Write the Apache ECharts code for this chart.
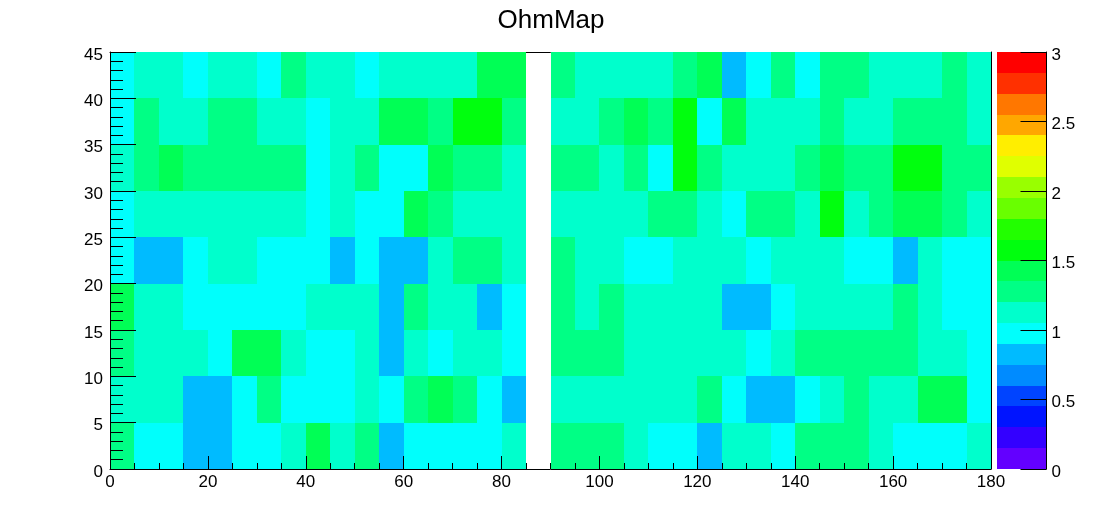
<!DOCTYPE html>
<html>
<head>
<meta charset="utf-8">
<style>html,body{margin:0;padding:0;background:#fff}#c{width:1102px;height:522px}</style>
<script src="https://cdn.jsdelivr.net/npm/echarts@6/dist/echarts.min.js"></script>
</head>
<body>
<div id="c"></div>
<script>
// Bin widths
const xBinWidth = 5;
const yBinWidth = 5;
// Values per row (x bins 0..180 in steps of 5); null = empty bin
const y0  = [1.28,1.0,1.0,0.82,0.82,1.0,1.0,1.12,1.42,1.12,1.28,0.82,1.0,1.0,1.0,1.0,1.12,null,1.28,1.28,1.28,1.12,1.0,1.0,0.82,1.12,1.12,1.0,1.28,1.28,1.28,1.12,1.0,1.0,1.0,1.12];
const y5  = [1.12,1.12,1.12,0.82,0.82,1.0,1.28,1.0,1.0,1.0,1.12,1.0,1.28,1.42,1.28,1.0,0.82,null,1.12,1.12,1.12,1.12,1.12,1.12,1.28,1.0,0.82,0.82,1.0,1.12,1.28,1.12,1.12,1.42,1.42,1.0];
const y10 = [1.28,1.12,1.12,1.12,1.0,1.42,1.42,1.12,1.0,1.0,1.12,0.82,1.12,1.0,1.12,1.12,1.0,null,1.28,1.28,1.28,1.12,1.12,1.12,1.12,1.12,1.0,1.12,1.28,1.28,1.28,1.28,1.28,1.12,1.12,1.0];
const y15 = [1.42,1.12,1.12,1.0,1.0,1.0,1.0,1.0,1.12,1.12,1.12,0.82,1.28,1.12,1.12,0.82,1.0,null,1.28,1.12,1.28,1.12,1.12,1.12,1.12,0.82,0.82,1.0,1.12,1.12,1.12,1.12,1.28,1.12,1.0,1.0];
const y20 = [1.0,0.82,0.82,1.0,1.12,1.12,1.0,1.0,1.0,0.82,1.0,0.82,0.82,1.12,1.28,1.28,1.12,null,1.28,1.12,1.12,1.0,1.0,1.12,1.12,1.12,1.0,1.12,1.12,1.12,1.0,1.0,0.82,1.12,1.0,1.0];
const y25 = [1.0,1.12,1.12,1.12,1.12,1.12,1.12,1.12,1.0,1.12,1.0,1.0,1.42,1.28,1.12,1.12,1.12,null,1.12,1.12,1.12,1.12,1.28,1.28,1.12,1.0,1.28,1.28,1.12,1.58,1.12,1.28,1.42,1.42,1.28,1.12];
const y30 = [1.12,1.28,1.42,1.28,1.28,1.28,1.28,1.28,1.0,1.12,1.28,1.0,1.0,1.42,1.28,1.28,1.12,null,1.28,1.28,1.12,1.28,1.0,1.58,1.28,1.12,1.12,1.12,1.28,1.42,1.28,1.28,1.58,1.58,1.28,1.28];
const y35 = [1.0,1.28,1.12,1.12,1.28,1.28,1.12,1.12,1.0,1.12,1.12,1.42,1.42,1.28,1.58,1.58,1.28,null,1.12,1.12,1.28,1.42,1.28,1.58,1.0,1.42,1.12,1.12,1.12,1.28,1.12,1.12,1.28,1.28,1.28,1.12];
const y40 = [1.0,1.12,1.12,1.0,1.12,1.12,1.0,1.28,1.12,1.12,1.0,1.12,1.12,1.12,1.12,1.42,1.42,null,1.28,1.12,1.12,1.12,1.12,1.28,1.42,0.82,1.0,1.28,1.0,1.28,1.28,1.12,1.12,1.12,1.28,1.12];
const rows = [y0,y5,y10,y15,y20,y25,y30,y35,y40];

// Palette bands, lowest value first (each 0.15 wide)
const paletteStep = 0.15;
const paletteColors = ['#6300ff','#3300ff','#0014ff','#0044ff','#008bff','#00bbff','#00fffc','#00ffcc','#00ff85','#00ff55','#00ff0e','#22ff00','#69ff00','#99ff00','#e0ff00','#ffee00','#ffa700','#ff7700','#ff3000','#ff0000'];
const titleText = 'OhmMap';

function colorOf(v){
  return paletteColors[Math.min(paletteColors.length-1, Math.floor(v/paletteStep))];
}
const cells = [];
rows.forEach((r,j)=>r.forEach((v,i)=>{ if(v!==null) cells.push([i*xBinWidth,j*yBinWidth,v]); }));
const bands = paletteColors.map((c,i)=>[i*paletteStep,(i+1)*paletteStep,i]);

const font = 'Liberation Sans';
const black = '#000';
const shifted = {a:{fontFamily:font,fontSize:17,color:black,padding:[6,0,0,0]}};
const chart = echarts.init(document.getElementById('c'),null,{renderer:'canvas'});
chart.setOption({
  animation:false,
  backgroundColor:'#fff',
  title:{text:titleText,left:'center',top:3,textStyle:{fontFamily:font,fontSize:26,fontWeight:'normal',color:black}},
  grid:[
    {left:110,top:52,width:881,height:417},
    {left:997,top:52,width:49.5,height:417}
  ],
  xAxis:[
    {type:'value',gridIndex:0,min:0,max:180,interval:20,position:'bottom',z:5,
     splitLine:{show:false},
     axisLine:{show:true,onZero:false,lineStyle:{color:black,width:1}},
     axisTick:{show:true,inside:true,length:13,lineStyle:{color:black}},
     minorTick:{show:true,splitNumber:4,length:6,lineStyle:{color:black}},
     axisLabel:{fontFamily:font,fontSize:17,color:black,margin:5}},
    {type:'value',gridIndex:0,min:0,max:180,position:'top',z:0,
     splitLine:{show:false},axisTick:{show:false},axisLabel:{show:false},
     axisLine:{show:true,onZero:false,lineStyle:{color:black,width:1}}},
    {type:'value',gridIndex:1,min:0,max:1,show:false}
  ],
  yAxis:[
    {type:'value',gridIndex:0,min:0,max:45,interval:5,position:'left',z:5,
     splitLine:{show:false},
     axisLine:{show:true,onZero:false,lineStyle:{color:black,width:1}},
     axisTick:{show:true,inside:true,length:26,lineStyle:{color:black}},
     minorTick:{show:true,splitNumber:5,length:13,lineStyle:{color:black}},
     axisLabel:{margin:7,formatter:v=>'{a|'+v+'}',rich:shifted}},
    {type:'value',gridIndex:0,min:0,max:45,position:'right',z:5,
     splitLine:{show:false},axisTick:{show:false},axisLabel:{show:false},
     axisLine:{show:true,onZero:false,lineStyle:{color:black,width:1}}},
    {type:'value',gridIndex:1,min:0,max:3,interval:0.5,position:'right',z:5,
     splitLine:{show:false},
     axisLine:{show:true,onZero:false,lineStyle:{color:black,width:1}},
     axisTick:{show:true,inside:true,length:26,lineStyle:{color:black}},
     axisLabel:{margin:5,formatter:v=>'{a|'+v+'}',rich:shifted}}
  ],
  series:[
    {type:'custom',xAxisIndex:0,yAxisIndex:0,z:2,clip:false,silent:true,
     data:cells,
     renderItem:function(params,api){
       const x=api.value(0), y=api.value(1), v=api.value(2);
       const a=api.coord([x,y]), b=api.coord([x+xBinWidth,y+yBinWidth]);
       const x0=Math.round(a[0]), x1=Math.round(b[0]), y0=Math.round(a[1]), y1=Math.round(b[1]);
       return {type:'rect',shape:{x:x0,y:y1,width:x1-x0,height:y0-y1},style:{fill:colorOf(v)}};
     }},
    {type:'custom',xAxisIndex:2,yAxisIndex:2,z:2,clip:false,silent:true,
     data:bands,
     renderItem:function(params,api){
       const a=api.coord([0,api.value(0)]), b=api.coord([1,api.value(1)]);
       const x0=Math.round(a[0]), x1=Math.round(b[0]), y0=Math.round(a[1]), y1=Math.round(b[1]);
       return {type:'rect',shape:{x:x0,y:y1,width:x1-x0,height:y0-y1},style:{fill:paletteColors[api.value(2)]}};
     }}
  ]
});
</script>
</body>
</html>
